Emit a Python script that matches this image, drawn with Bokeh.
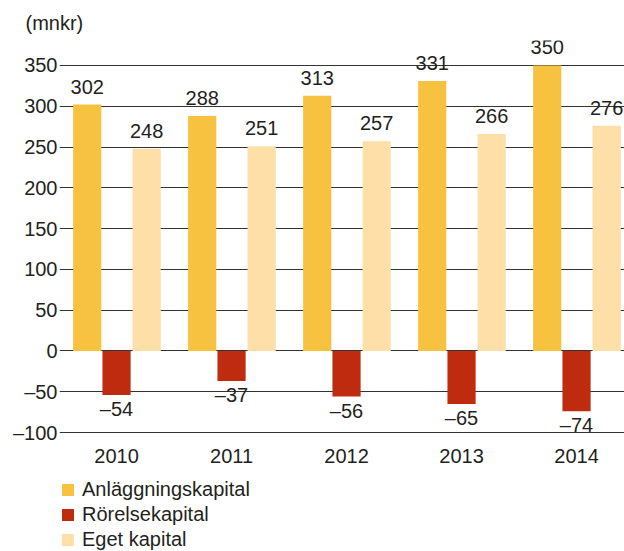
from bokeh.plotting import figure
from bokeh.layouts import column
from bokeh.models import (ColumnDataSource, Range1d, FixedTicker, LabelSet,
                          Legend, LegendItem, Title)
from bokeh.core.properties import value
from bokeh.transform import dodge
from bokeh.embed import file_html
from bokeh.resources import INLINE

# ---- data ----
years = ["2010", "2011", "2012", "2013", "2014"]
anlaggning = [302, 288, 313, 331, 350]
rorelse = [-54, -37, -56, -65, -74]
eget = [248, 251, 257, 266, 276]
y_ticks = [-100, -50, 0, 50, 100, 150, 200, 250, 300, 350]
series_names = ["Anläggningskapital", "Rörelsekapital", "Eget kapital"]

FONT = "Liberation Sans"
FS = "20px"
TXT = "#231F20"
C_ANL = "#F8C241"
C_ROR = "#BE2B0E"
C_EGET = "#FDDFA7"
colors = [C_ANL, C_ROR, C_EGET]


def fmt(v):
    return ("\u2013" + str(abs(v))) if v < 0 else str(v)


x = list(range(len(years)))
src = ColumnDataSource(dict(
    x=x, anl=anlaggning, ror=rorelse, eget=eget,
    anl_t=[fmt(v) for v in anlaggning],
    ror_t=[fmt(v) for v in rorelse],
    eget_t=[fmt(v) for v in eget],
))

W_TOTAL = 624
H_MAIN = 472
p = figure(width=W_TOTAL, height=H_MAIN, output_backend="svg",
           toolbar_location=None,
           x_range=Range1d(-0.496, 4.417), y_range=Range1d(-104.9, 380.6),
           min_border_left=59, min_border_right=0, min_border_top=40,
           min_border_bottom=H_MAIN - 436)
p.outline_line_color = None
p.background_fill_color = "white"
p.border_fill_color = "white"

W = 0.245
OFF = [-0.255, 0.0, 0.262]
r1 = p.vbar(x=dodge("x", OFF[0]), top="anl", width=W, source=src,
            fill_color=C_ANL, line_color=None)
r2 = p.vbar(x=dodge("x", OFF[1]), top="ror", width=W, source=src,
            fill_color=C_ROR, line_color=None)
r3 = p.vbar(x=dodge("x", OFF[2]), top="eget", width=W, source=src,
            fill_color=C_EGET, line_color=None)

common = dict(source=src, text_font_size=FS, text_color=TXT,
              text_align="center", text_font=value(FONT))
p.add_layout(LabelSet(x=dodge("x", OFF[0]), y="anl", text="anl_t", y_offset=11,
                      text_baseline="bottom", **common))
p.add_layout(LabelSet(x=dodge("x", OFF[2]), y="eget", text="eget_t", y_offset=11,
                      text_baseline="bottom", **common))
p.add_layout(LabelSet(x=dodge("x", OFF[1]), y="ror", text="ror_t", y_offset=-3,
                      text_baseline="top", **common))

# grid
p.xgrid.grid_line_color = None
p.ygrid.ticker = FixedTicker(ticks=y_ticks)
p.ygrid.grid_line_color = "#333333"
p.ygrid.grid_line_width = 1

# y axis
ya = p.yaxis[0]
ya.ticker = FixedTicker(ticks=y_ticks)
ya.major_label_overrides = {t: fmt(t) for t in y_ticks}
ya.axis_line_color = None
ya.major_tick_line_color = None
ya.minor_tick_line_color = None
ya.major_tick_out = 0
ya.major_tick_in = 0
ya.major_label_standoff = 2
ya.major_label_text_font = FONT
ya.major_label_text_font_size = FS
ya.major_label_text_color = TXT

# x axis
xa = p.xaxis[0]
xa.ticker = FixedTicker(ticks=x)
xa.major_label_overrides = {i: y for i, y in zip(x, years)}
xa.axis_line_color = None
xa.major_tick_line_color = None
xa.minor_tick_line_color = None
xa.major_tick_out = 0
xa.major_tick_in = 0
xa.major_label_standoff = 12
xa.major_label_text_font = FONT
xa.major_label_text_font_size = FS
xa.major_label_text_color = TXT

# title
t = Title(text="(mnkr)", align="left", text_font=FONT, text_font_size=FS,
          text_font_style="normal", text_color=TXT, offset=-34, standoff=14)
p.add_layout(t, "above")

# legend panel (separate strip below the chart); its renderers carry the
# series data but with zero width, so only the legend swatches are visible
H_LEG = 551 - H_MAIN
pl = figure(width=W_TOTAL, height=H_LEG, output_backend="svg",
            toolbar_location=None, x_axis_location=None, y_axis_location=None,
            min_border_left=0, min_border_right=0, min_border_top=0,
            min_border_bottom=0)
pl.outline_line_color = None
pl.xgrid.grid_line_color = None
pl.ygrid.grid_line_color = None
items = []
for name, col, vals in zip(series_names, colors, [anlaggning, rorelse, eget]):
    rr = pl.vbar(x=x, top=vals, width=0, fill_color=col, line_color=None)
    items.append(LegendItem(label=name, renderers=[rr]))

legend = Legend(items=items, location=(1, 0), orientation="vertical",
                glyph_width=15, glyph_height=15, label_height=20,
                label_standoff=7, spacing=2, padding=0, margin=0,
                label_text_font=FONT, label_text_font_size=FS,
                label_text_color=TXT,
                border_line_color=None, background_fill_alpha=0)
pl.add_layout(legend)

layout = column(p, pl, spacing=0)
open("out.html", "w").write(file_html(layout, INLINE))
